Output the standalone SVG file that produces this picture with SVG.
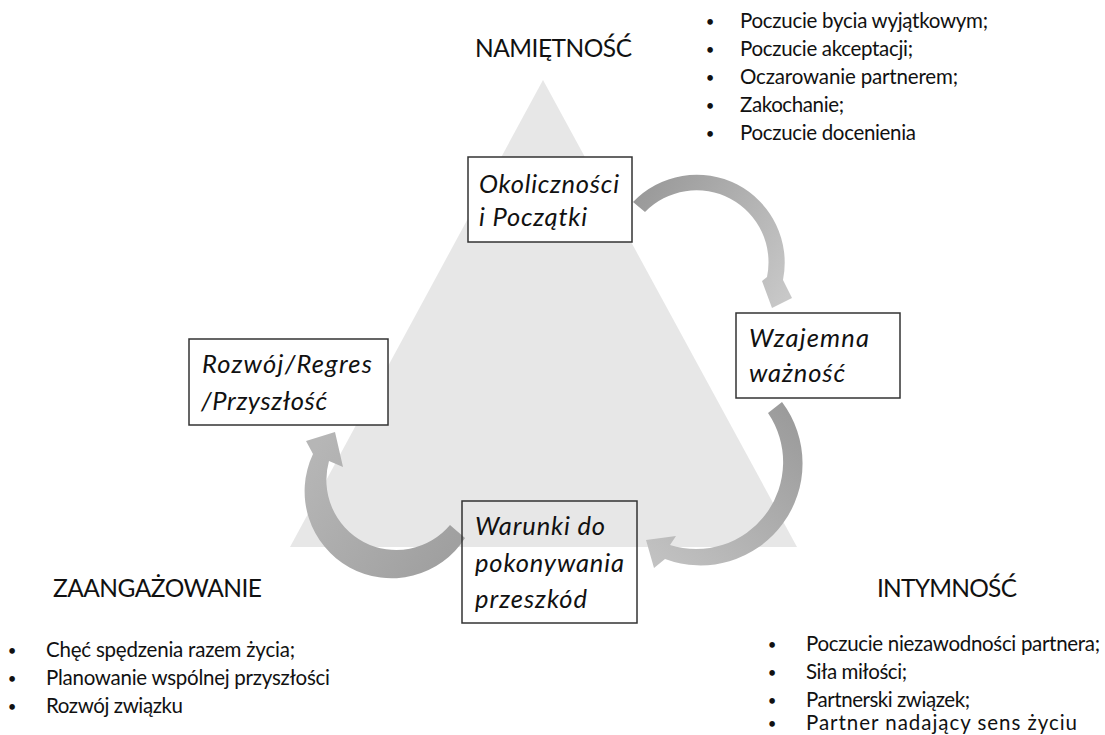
<svg xmlns="http://www.w3.org/2000/svg" width="1105" height="735" viewBox="0 0 1105 735">
<style>
.t{font-family:Lato,"Noto Sans","Liberation Sans",sans-serif;fill:#111}
.h{font-size:24.5px}
.l{font-size:20.5px}
.b{font-size:15px;text-anchor:middle}
.i{font-family:Lato,"Noto Sans","Liberation Sans",sans-serif;font-style:italic;font-size:25.5px;fill:#111}
.box{stroke:#333;stroke-width:1.5}
</style>
<defs>
<linearGradient id="g1" gradientUnits="userSpaceOnUse" x1="633" y1="200" x2="785" y2="300">
<stop offset="0" stop-color="#999"/><stop offset="1" stop-color="#c8c8c8"/>
</linearGradient>
<linearGradient id="g2" gradientUnits="userSpaceOnUse" x1="790" y1="405" x2="650" y2="560">
<stop offset="0" stop-color="#9a9a9a"/><stop offset="1" stop-color="#c2c2c2"/>
</linearGradient>
<linearGradient id="g3" gradientUnits="userSpaceOnUse" x1="460" y1="535" x2="320" y2="440">
<stop offset="0" stop-color="#a0a0a0"/><stop offset="1" stop-color="#b6b6b6"/>
</linearGradient>
</defs>
<rect width="1105" height="735" fill="#fff"/>
<polygon id="triangle" points="543,80 797,547 290,547" fill="#e7e7e7"/>
<g id="connectors">
<path d="M633,202 A88,88 0 0 1 783,280 L792,298 L772,308 L762,281 L767,277 A72,72 0 0 0 645,212 Z" fill="url(#g1)"/>
<path d="M782,402 A102,102 0 0 1 665,559 L654,568 L646,540 L676,536 L670,545 A87,87 0 0 0 768,413 Z" fill="url(#g2)"/>
<path d="M465,538 A87,87 0 0 1 313,454 L306,441 L335,432 L343,467 L329,461 A70,70 0 0 0 450,525 Z" fill="url(#g3)"/>
</g>
<g id="node-okolicznosci">
<rect class="box" x="468" y="157" width="164" height="85" fill="#fff"/>
<text class="i" x="479" y="193" textLength="140">Okoliczności</text>
<text class="i" x="479" y="226" textLength="108">i Początki</text>
</g>
<g id="node-wzajemna">
<rect class="box" x="736" y="313" width="164" height="85" fill="#fff"/>
<text class="i" x="749" y="347" textLength="120">Wzajemna</text>
<text class="i" x="749" y="382" textLength="96">ważność</text>
</g>
<g id="node-warunki">
<rect class="box" x="462" y="501" width="175" height="122" fill="none"/>
<text class="i" x="475" y="535" textLength="130">Warunki do</text>
<text class="i" x="475" y="572" textLength="149">pokonywania</text>
<text class="i" x="475" y="608" textLength="112">przeszkód</text>
</g>
<g id="node-rozwoj">
<rect class="box" x="189" y="339" width="199" height="86" fill="#fff"/>
<text class="i" x="202" y="373" textLength="170">Rozwój/Regres</text>
<text class="i" x="201" y="410" textLength="126">/Przyszłość</text>
</g>
<g id="namietnosc">
<text class="t h" x="475" y="57" textLength="157">NAMIĘTNOŚĆ</text>
<text class="t b" x="710" y="27">•</text><text class="t l" x="740" y="28" textLength="248">Poczucie bycia wyjątkowym;</text>
<text class="t b" x="710" y="55">•</text><text class="t l" x="740" y="56" textLength="173">Poczucie akceptacji;</text>
<text class="t b" x="710" y="83">•</text><text class="t l" x="740" y="84" textLength="218">Oczarowanie partnerem;</text>
<text class="t b" x="710" y="111">•</text><text class="t l" x="740" y="112" textLength="104">Zakochanie;</text>
<text class="t b" x="710" y="139">•</text><text class="t l" x="740" y="140" textLength="176">Poczucie docenienia</text>
</g>
<g id="zaangazowanie">
<text class="t h" x="53" y="597" textLength="209">ZAANGAŻOWANIE</text>
<text class="t b" x="12" y="656">•</text><text class="t l" x="46" y="657" textLength="249">Chęć spędzenia razem życia;</text>
<text class="t b" x="12" y="684">•</text><text class="t l" x="46" y="685" textLength="284">Planowanie wspólnej przyszłości</text>
<text class="t b" x="12" y="712">•</text><text class="t l" x="46" y="713" textLength="137">Rozwój związku</text>
</g>
<g id="intymnosc">
<text class="t h" x="877" y="597" textLength="140">INTYMNOŚĆ</text>
<text class="t b" x="772" y="650">•</text><text class="t l" x="806" y="651" textLength="294">Poczucie niezawodności partnera;</text>
<text class="t b" x="772" y="678">•</text><text class="t l" x="806" y="679" textLength="101">Siła miłości;</text>
<text class="t b" x="772" y="706">•</text><text class="t l" x="806" y="707" textLength="164">Partnerski związek;</text>
<text class="t b" x="772" y="729">•</text><text class="t l" x="806" y="730" textLength="271">Partner nadający sens życiu</text>
</g>
</svg>
